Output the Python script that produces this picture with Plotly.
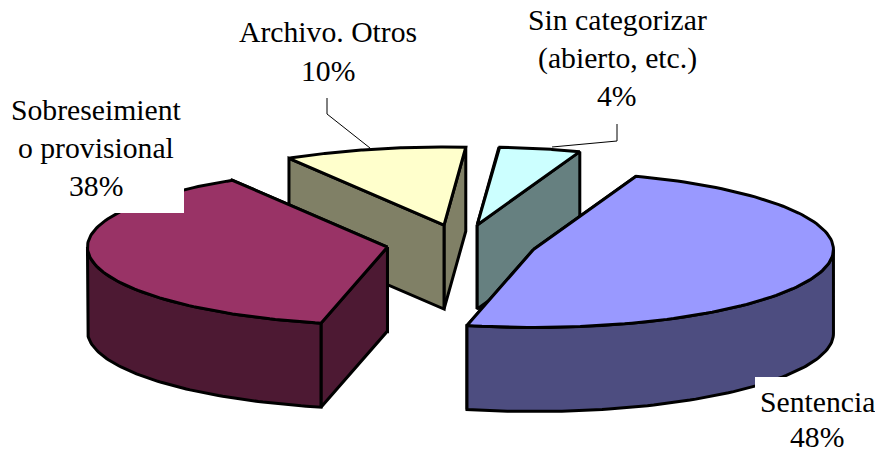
import numpy as np
import plotly.graph_objects as go

categories = ["Sentencia", "Sobreseimiento provisional", "Archivo. Otros", "Sin categorizar"]
values = [48.0, 37.8, 9.8, 4.4]
top_colors = ["#9999FF", "#993366", "#FFFFCC", "#CCFFFF"]
side_colors = ["#4D4D80", "#4D1933", "#808066", "#668080"]
draw_order = [2, 3, 1, 0]

START = 20.0        # first slice angle, clockwise from 12 o'clock
CX, CY = 461.5, 244.0
RX, RY = 300.0, 78.0
DEPTH = 84.0
EXPLODE = 0.25
LW = 3


def rim(cx, cy, a):
    a = np.radians(a)
    return cx + RX * np.sin(a), cy - RY * np.cos(a)


def poly(fig, xs, ys, color):
    fig.add_trace(go.Scatter(
        x=list(xs) + [xs[0]], y=list(ys) + [ys[0]], mode="lines", fill="toself",
        fillcolor=color, line=dict(color="black", width=LW), hoverinfo="skip",
        showlegend=False))


fig = go.Figure()
angles = START + np.concatenate([[0], np.cumsum(values)]) * 3.6

for i in draw_order:
    a0, a1 = angles[i], angles[i + 1]
    mid = (a0 + a1) / 2
    cx, cy = rim(CX, CY, mid)
    cx, cy = CX + EXPLODE * (cx - CX), CY + EXPLODE * (cy - CY)
    # radial faces
    for a in sorted([a0, a1], key=lambda v: rim(cx, cy, v)[1]):
        x, y = rim(cx, cy, a)
        poly(fig, [cx, x, x, cx], [cy, y, y + DEPTH, cy + DEPTH], side_colors[i])
    # outer wall (front half only)
    f0, f1 = max(a0, 90), min(a1, 270)
    if f1 > f0:
        t = np.linspace(f0, f1, 80)
        x, y = rim(cx, cy, t)
        poly(fig, np.r_[x, x[::-1]], np.r_[y, y[::-1] + DEPTH], side_colors[i])
    # top
    t = np.linspace(a0, a1, 120)
    x, y = rim(cx, cy, t)
    poly(fig, np.r_[cx, x], np.r_[cy, y], top_colors[i])

# leader lines
leader = dict(type="line", xref="x", yref="y", line=dict(color="black", width=1))
shapes = [
    dict(leader, x0=327, y0=98, x1=327, y1=114),
    dict(leader, x0=327, y0=114, x1=370, y1=148),
    dict(leader, x0=617, y0=124, x1=617, y1=141),
    dict(leader, x0=617, y0=141, x1=552, y1=147),
    # white label backgrounds
    dict(type="rect", xref="x", yref="y", x0=4, x1=184, y0=90, y1=213,
         fillcolor="white", line=dict(width=0)),
    dict(type="rect", xref="x", yref="y", x0=755, x1=875, y0=377, y1=452,
         fillcolor="white", line=dict(width=0)),
]

label_lines = [
    ("Archivo. Otros", 328, 32), ("10%", 328, 71),
    ("Sin categorizar", 617, 20), ("(abierto, etc.)", 617, 58), ("4%", 617, 96),
    ("Sobreseimient", 96, 110), ("o provisional", 96, 148), ("38%", 96, 186),
    ("Sentencia", 817, 402), ("48%", 817, 437),
]
annotations = [
    dict(text=s, x=x, y=y, xref="x", yref="y", showarrow=False, xanchor="center",
         yanchor="middle", font=dict(family="Liberation Serif", size=29.7, color="black"))
    for s, x, y in label_lines
]

fig.update_layout(
    width=875, height=452, margin=dict(l=0, r=0, t=0, b=0),
    paper_bgcolor="white", plot_bgcolor="white", showlegend=False,
    xaxis=dict(range=[0, 875], visible=False, fixedrange=True),
    yaxis=dict(range=[452, 0], visible=False, fixedrange=True),
    shapes=shapes, annotations=annotations,
)
fig.write_html("out.html", config=dict(displayModeBar=False),
               post_script="document.body.style.margin='0';document.body.style.overflow='hidden';")
